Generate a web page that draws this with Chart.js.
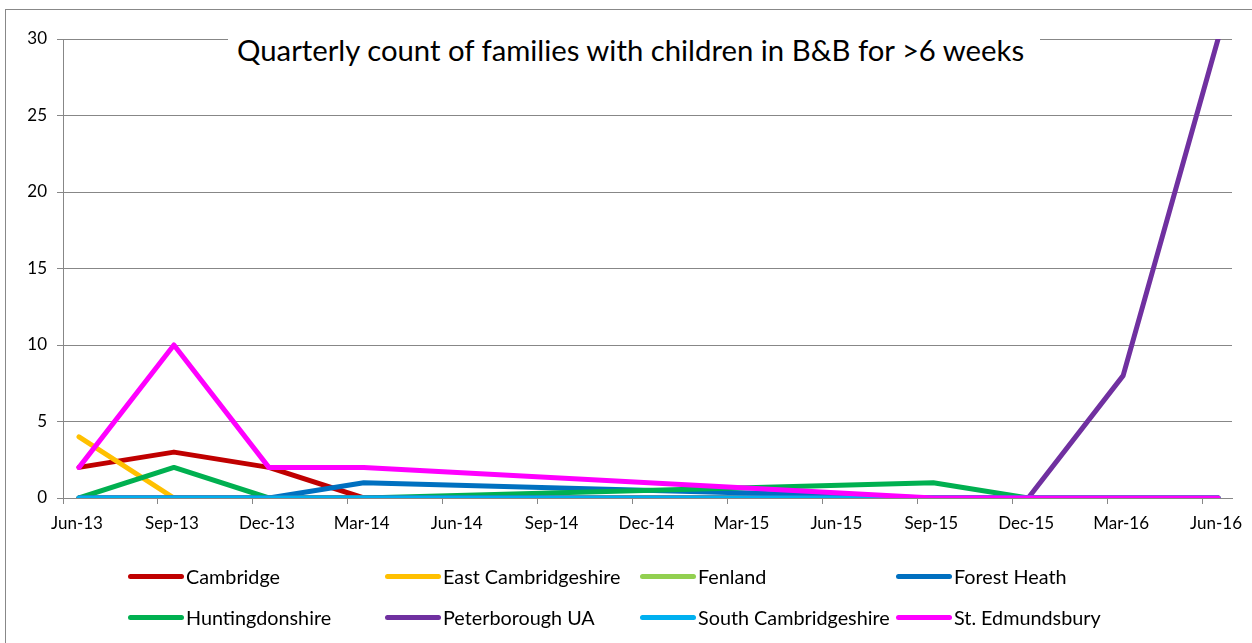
<!DOCTYPE html>
<html>
<head>
<meta charset="utf-8">
<script src="https://cdn.jsdelivr.net/npm/chart.js@4.4.1/dist/chart.umd.min.js"></script>
<style>
  html, body { margin: 0; padding: 0; background: #fff; overflow: hidden; }
  body { width: 1252px; height: 643px; position: relative; font-family: 'Lato', sans-serif; }
  #frame { position: absolute; left: 5px; top: 9px; width: 1400px; height: 800px; border: 1px solid #888; box-sizing: border-box; }
  #chart { position: absolute; left: 0; top: 0; }
  #title { position: absolute; left: 228px; top: 28px; width: 812px; height: 44px; background: #fff;
           font-size: 29.3px; line-height: 44px; padding-left: 9px; box-sizing: border-box; color: #000; white-space: nowrap; }
  #legend { position: absolute; left: 128px; top: 564px; }
  .lg-item { position: absolute; display: flex; align-items: center; white-space: nowrap; font-size: 19.8px; color: #000; height: 24px; }
  .lg-swatch { display: inline-block; width: 56px; height: 5px; border-radius: 3px; margin-right: 2px; }
</style>
</head>
<body>
<div id="frame"></div>
<canvas id="chart" width="1252" height="643"></canvas>
<div id="title">Quarterly count of families with children in B&amp;B for &gt;6 weeks</div>
<div id="legend"></div>
<script>
// quarters on the x axis
const quarters = ['Jun-13', 'Sep-13', 'Dec-13', 'Mar-14', 'Jun-14', 'Sep-14', 'Dec-14',
                  'Mar-15', 'Jun-15', 'Sep-15', 'Dec-15', 'Mar-16', 'Jun-16'];

// families per district (null = no figure, line is joined across the gap)
const cambridge       = [2, 3, 2, 0, 0, 0, 0, 0, 0, 0, 0, 0, 0];
const eastCambs       = [4, 0, 0, 0, 0, 0, 0, 0, 0, 0, 0, 0, 0];
const fenland         = [0, 0, 0, 0, 0, 0, 0, 0, 0, 0, 0, 0, 0];
const forestHeath     = [0, 0, 0, 1, null, null, null, null, null, 0, 0, 0, 0];
const huntingdonshire = [0, 2, 0, 0, null, null, null, null, null, 1, 0, 0, 0];
const peterborough    = [0, 0, 0, 0, 0, 0, 0, 0, 0, 0, 0, 8, 30];
const southCambs      = [0, 0, 0, 0, 0, 0, 0, 0, 0, 0, 0, 0, 0];
const stEdmundsbury   = [2, 10, 2, 2, null, null, null, null, null, 0, 0, 0, 0];

const seriesNames  = ['Cambridge', 'East Cambridgeshire', 'Fenland', 'Forest Heath',
                      'Huntingdonshire', 'Peterborough UA', 'South Cambridgeshire', 'St. Edmundsbury'];
const seriesValues = [cambridge, eastCambs, fenland, forestHeath,
                      huntingdonshire, peterborough, southCambs, stEdmundsbury];
const seriesColors = ['#C00000', '#FFC000', '#92D050', '#0070C0',
                      '#00B050', '#7030A0', '#00B0F0', '#FF00FF'];

const yTicks = [0, 5, 10, 15, 20, 25, 30];

const FONT = "'Lato', sans-serif";
const GRID = '#878787';
const X_SHIFT = -0.1686; // tick marks sit a little left of each point

const datasets = seriesNames.map(function (name, i) {
  return {
    label: name,
    data: seriesValues[i].map(function (v, k) { return { x: k, y: v }; }),
    borderColor: seriesColors[i],
    backgroundColor: seriesColors[i],
    borderWidth: 5,
    borderCapStyle: 'round',
    borderJoinStyle: 'round',
    pointRadius: 0,
    tension: 0,
    spanGaps: true,
    fill: false,
    order: seriesNames.length - 1 - i
  };
});

const chart = new Chart(document.getElementById('chart').getContext('2d'), {
  type: 'line',
  data: { datasets: datasets },
  options: {
    responsive: false,
    animation: false,
    devicePixelRatio: 1,
    layout: { padding: { left: 0, top: 39, right: 20, bottom: 105 } },
    plugins: {
      legend: { display: false },
      title: { display: false },
      tooltip: { enabled: false }
    },
    scales: {
      x: {
        type: 'linear',
        min: X_SHIFT,
        max: 12.147,
        afterBuildTicks: function (axis) {
          axis.ticks = quarters.map(function (q, i) { return { value: i + X_SHIFT }; });
        },
        afterFit: function (axis) { axis.height = 40; },
        grid: { drawOnChartArea: false, drawTicks: true, tickLength: 6, color: GRID, lineWidth: 1 },
        border: { display: true, color: GRID, width: 1 },
        ticks: {
          autoSkip: false,
          maxRotation: 0,
          labelOffset: 14,
          padding: 9,
          color: '#000',
          font: { family: FONT, size: 17 },
          callback: function (v, idx) { return quarters[idx]; }
        }
      },
      y: {
        min: 0,
        max: 30,
        afterBuildTicks: function (axis) {
          axis.ticks = yTicks.map(function (v) { return { value: v }; });
        },
        afterFit: function (axis) { axis.width = 63; },
        grid: { color: GRID, lineWidth: 1, drawTicks: true, tickLength: 6 },
        border: { display: true, color: GRID, width: 1 },
        ticks: {
          padding: 10,
          color: '#000',
          font: { family: FONT, size: 17 }
        }
      }
    }
  }
});

// legend: 2 rows x 4 columns, built from the chart's datasets
const legendEl = document.getElementById('legend');
const colX = [0, 257, 512, 768];
chart.data.datasets.forEach(function (ds, i) {
  const item = document.createElement('div');
  item.className = 'lg-item';
  item.style.left = colX[i % 4] + 'px';
  item.style.top = (Math.floor(i / 4) * 41) + 'px';
  const sw = document.createElement('span');
  sw.className = 'lg-swatch';
  sw.style.background = ds.borderColor;
  item.appendChild(sw);
  item.appendChild(document.createTextNode(ds.label));
  legendEl.appendChild(item);
});
</script>
</body>
</html>
